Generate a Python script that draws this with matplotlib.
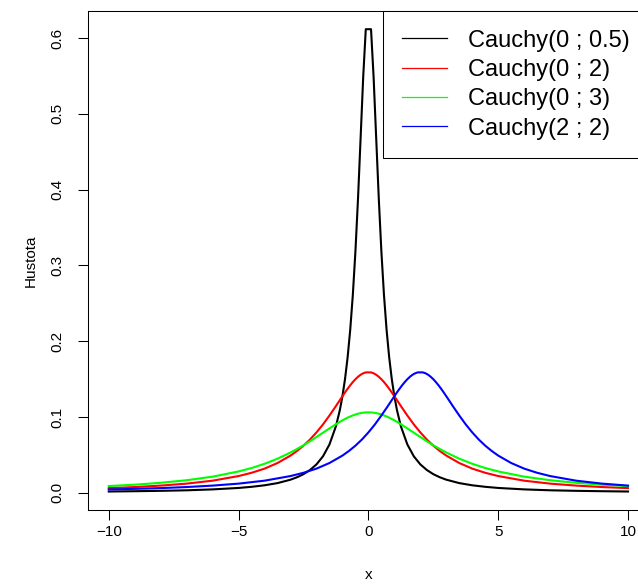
import matplotlib
matplotlib.use("Agg")
import matplotlib.pyplot as plt
from matplotlib.lines import Line2D

plt.rcParams['font.family'] = ['Liberation Sans', 'DejaVu Sans']

# shared x grid for the three centred densities
x_sym = [-10, -9, -8, -7, -6, -5, -4.5, -4, -3.5, -3, -2.75, -2.5, -2.25, -2,
         -1.75, -1.5, -1.25, -1.1, -1, -0.9, -0.8, -0.7, -0.6, -0.5, -0.4, -0.3,
         -0.2, -0.101,
         0.101, 0.2, 0.3, 0.4, 0.5, 0.6, 0.7, 0.8, 0.9, 1, 1.1, 1.25, 1.5, 1.75,
         2, 2.25, 2.5, 2.75, 3, 3.5, 4, 4.5, 5, 6, 7, 8, 9, 10]

y_c0_05 = [0.0016, 0.0020, 0.0025, 0.0032, 0.0044, 0.0063, 0.0078, 0.0098, 0.0127,
           0.0172, 0.0204, 0.0245, 0.0300, 0.0374, 0.0480, 0.0637, 0.0878, 0.1090,
           0.1273, 0.1501, 0.1788, 0.2151, 0.2609, 0.3183, 0.3882, 0.4681, 0.5488,
           0.6117,
           0.6117, 0.5488, 0.4681, 0.3882, 0.3183, 0.2609, 0.2151, 0.1788, 0.1501,
           0.1273, 0.1090, 0.0878, 0.0637, 0.0480, 0.0374, 0.0300, 0.0245, 0.0204,
           0.0172, 0.0127, 0.0098, 0.0078, 0.0063, 0.0044, 0.0032, 0.0025, 0.0020,
           0.0016]

y_c0_2 = [0.0061, 0.0075, 0.0094, 0.0120, 0.0159, 0.0220, 0.0263, 0.0318, 0.0392,
          0.0490, 0.0551, 0.0621, 0.0702, 0.0796, 0.0901, 0.1019, 0.1144, 0.1222,
          0.1273, 0.1324, 0.1372, 0.1418, 0.1460, 0.1498, 0.1530, 0.1557, 0.1576,
          0.1588,
          0.1588, 0.1576, 0.1557, 0.1530, 0.1498, 0.1460, 0.1418, 0.1372, 0.1324,
          0.1273, 0.1222, 0.1144, 0.1019, 0.0901, 0.0796, 0.0702, 0.0621, 0.0551,
          0.0490, 0.0392, 0.0318, 0.0263, 0.0220, 0.0159, 0.0120, 0.0094, 0.0075,
          0.0061]

y_c0_3 = [0.0088, 0.0106, 0.0131, 0.0165, 0.0212, 0.0281, 0.0326, 0.0382, 0.0449,
          0.0531, 0.0577, 0.0626, 0.0679, 0.0735, 0.0792, 0.0849, 0.0904, 0.0935,
          0.0955, 0.0973, 0.0991, 0.1006, 0.1020, 0.1032, 0.1043, 0.1051, 0.1056,
          0.1060,
          0.1060, 0.1056, 0.1051, 0.1043, 0.1032, 0.1020, 0.1006, 0.0991, 0.0973,
          0.0955, 0.0935, 0.0904, 0.0849, 0.0792, 0.0735, 0.0679, 0.0626, 0.0577,
          0.0531, 0.0449, 0.0382, 0.0326, 0.0281, 0.0212, 0.0165, 0.0131, 0.0106,
          0.0088]

x_c2_2 = [-10, -9, -8, -7, -6, -5, -4, -3, -2.5, -2, -1.5, -1, -0.75, -0.5, -0.25,
          0, 0.25, 0.5, 0.75, 0.9, 1, 1.1, 1.2, 1.3, 1.4, 1.5, 1.6, 1.7, 1.8, 1.899,
          2.101, 2.2, 2.3, 2.4, 2.5, 2.6, 2.7, 2.8, 2.9, 3, 3.1, 3.25, 3.5, 3.75,
          4, 4.25, 4.5, 4.75, 5, 5.5, 6, 6.5, 7, 8, 9, 10]
y_c2_2 = [0.0043, 0.0051, 0.0061, 0.0075, 0.0094, 0.0120, 0.0159, 0.0220, 0.0263,
          0.0318, 0.0392, 0.0490, 0.0551, 0.0621, 0.0702, 0.0796, 0.0901, 0.1019,
          0.1144, 0.1222, 0.1273, 0.1324, 0.1372, 0.1418, 0.1460, 0.1498, 0.1530,
          0.1557, 0.1576, 0.1588,
          0.1588, 0.1576, 0.1557, 0.1530, 0.1498, 0.1460, 0.1418, 0.1372, 0.1324,
          0.1273, 0.1222, 0.1144, 0.1019, 0.0901, 0.0796, 0.0702, 0.0621, 0.0551,
          0.0490, 0.0392, 0.0318, 0.0263, 0.0220, 0.0159, 0.0120, 0.0094]

labels = ["Cauchy(0 ; 0.5)", "Cauchy(0 ; 2)", "Cauchy(0 ; 3)", "Cauchy(2 ; 2)"]
colors = ["#000000", "#FF0000", "#00FF00", "#0000FF"]
x_ticks = [-10, -5, 0, 5, 10]
y_ticks = [0.0, 0.1, 0.2, 0.3, 0.4, 0.5, 0.6]
y_ticklabels = ["0.0", "0.1", "0.2", "0.3", "0.4", "0.5", "0.6"]
x_ticklabels = ["\u221210", "\u22125", "0", "5", "10"]

fig = plt.figure(figsize=(6.38, 5.86), dpi=100)
ax = fig.add_axes([88 / 638, 76 / 586, (648.8 - 88) / 638, (510 - 10.7) / 586])

series = [(x_sym, y_c0_05), (x_sym, y_c0_2), (x_sym, y_c0_3), (x_c2_2, y_c2_2)]
for (xs, ys), c in zip(series, colors):
    ax.plot(xs, ys, color=c, lw=1.5, solid_joinstyle='round')

ax.set_xlim(-10.8, 10.8)
ax.set_ylim(-0.0228, 0.6361)
ax.set_xticks(x_ticks)
ax.set_xticklabels(x_ticklabels)
ax.set_yticks(y_ticks)
ax.set_yticklabels(y_ticklabels)
ax.tick_params(axis='both', direction='out', length=7, width=0.75, labelsize=11,
               color='black')
ax.tick_params(axis='x', pad=4)
ax.tick_params(axis='y', pad=10)
for lab in ax.get_yticklabels():
    lab.set_rotation(90)
    lab.set_va('center')
    lab.set_ha('right')
for sp in ax.spines.values():
    sp.set_linewidth(0.75)
    sp.set_color('black')

ax.set_xlabel("x", fontsize=11, labelpad=21)
ax.set_ylabel("Hustota", fontsize=11, labelpad=9)

handles = [Line2D([], [], color=c, lw=0.9) for c in colors]
leg = ax.legend(handles, labels, loc='upper right', bbox_to_anchor=(1, 1),
                borderaxespad=0, prop={'size': 17}, handlelength=1.9,
                handletextpad=0.9, borderpad=0.8, labelspacing=0.31,
                fancybox=False, framealpha=1, edgecolor='black')
leg.get_frame().set_linewidth(0.75)

fig.savefig("out.png", dpi=100)
